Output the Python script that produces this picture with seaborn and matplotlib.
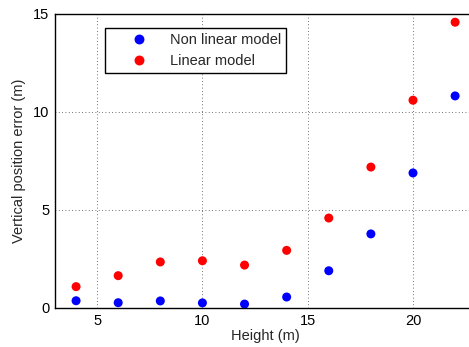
import matplotlib
matplotlib.use("Agg")
import matplotlib.pyplot as plt
import numpy as np
import pandas as pd
import seaborn as sns

# data
heights = [4, 6, 8, 10, 12, 14, 16, 18, 20, 22]
nonlinear_err = [0.37, 0.27, 0.36, 0.26, 0.20, 0.56, 1.90, 3.78, 6.89, 10.82]
linear_err = [1.09, 1.65, 2.35, 2.41, 2.19, 2.94, 4.59, 7.19, 10.60, 14.58]
model_names = ["Non linear model", "Linear model"]

df = pd.DataFrame({
    "height": heights * 2,
    "error": nonlinear_err + linear_err,
    "model": [model_names[0]] * len(heights) + [model_names[1]] * len(heights),
})

sns.set_style("white")
plt.rcParams["font.family"] = ["Liberation Sans", "DejaVu Sans"]
fs = 10.5

fig = plt.figure(figsize=(4.69, 3.47), dpi=100)
ax = fig.add_axes([0.1173, 0.1124, 0.898, 0.8473])

sns.scatterplot(data=df, x="height", y="error", hue="model",
                palette={model_names[0]: "#0000ff", model_names[1]: "#ff0000"},
                s=42, linewidth=0, ax=ax, legend=True)

ax.set_xlim(3, 23)
ax.set_ylim(0, 15)
ax.set_xticks([5, 10, 15, 20])
ax.set_yticks([0, 5, 10, 15])
ax.tick_params(direction="in", length=4, width=0.8, colors="black", labelsize=fs, pad=4)
ax.grid(True, linestyle=(0, (1, 3)), color="#444444", linewidth=0.6)
for sp in ax.spines.values():
    sp.set_color("black")
    sp.set_linewidth(1.0)

ax.set_xlabel("Height (m)", fontsize=fs, labelpad=1)
ax.set_ylabel("Vertical position error (m)", fontsize=fs, labelpad=5)

leg = ax.legend(loc="upper left", bbox_to_anchor=(105 / 469, 1 - 28 / 347),
                bbox_transform=fig.transFigure, fancybox=False, framealpha=1,
                edgecolor="black", fontsize=fs, borderpad=0.35,
                handletextpad=0.1, handlelength=4.0, labelspacing=0.45,
                borderaxespad=0, markerscale=1.1)
leg.get_frame().set_linewidth(1.0)

fig.savefig("out.png", dpi=100)
